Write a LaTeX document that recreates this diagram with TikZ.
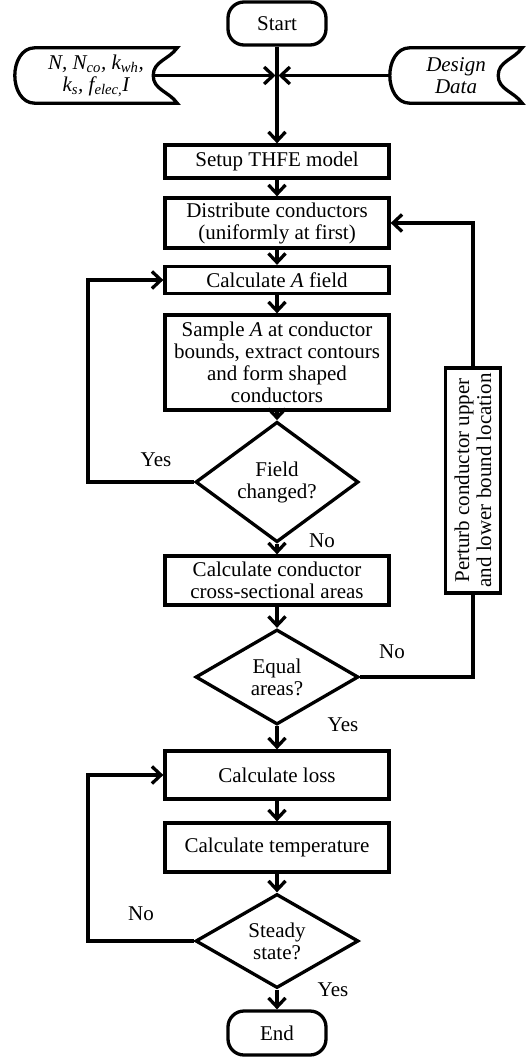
\documentclass[tikz,border=0pt]{standalone}
\usepackage{fontspec}
\setmainfont{Liberation Serif}
\usetikzlibrary{shapes.geometric,arrows.meta,positioning,calc}
\newcommand{\bw}{224}
\newcommand{\dmw}{163}
\newcommand{\dmh}{95}
% stored data shape: convex on the left, concave on the right
\newcommand{\mdata}[4]{
  \node [inner sep=0, minimum width=#2, minimum height=55, align=center, font=\fontsize{21}{22}\selectfont\itshape] at #1 (#4) {#3};
  \draw [line width=3.3pt] ($(#4.north west)+(20,0)$) -- ($(#4.north east)$)
    to[out=-125,in=90] ($(#4.east)+(-24,0)$)
    to[out=-90,in=125] ($(#4.south east)$)
    -- ($(#4.south west)+(20,0)$)
    to[out=180,in=-90] ($(#4.west)$)
    to[out=90,in=180] ($(#4.north west)+(20,0)$);
  \coordinate (#4v) at ($(#4.east)+(-24,0)$);
}

\begin{document}
\begin{tikzpicture}[x=1pt,y=-1pt,>={Straight Barb[length=9pt,width=17pt]},
  font=\fontsize{21}{22}\selectfont,
  blk/.style={draw,line width=3.3pt,minimum width=\bw,inner sep=1pt,align=center},
  term/.style={draw,line width=3.3pt,rounded corners=16pt,minimum width=98,minimum height=43,inner sep=0},
  dec/.style={draw,diamond,line width=3.3pt,minimum width=\dmw,minimum height=\dmh,inner sep=0,align=center},
  flow/.style={->,line width=3.3pt},
  lbl/.style={inner sep=0}]
  \useasboundingbox (0,0) rectangle (531,1059);

  \node [term] (start) at (277,23.5) {Start};
  \mdata{(96,75.5)}{162}{N, N\textsubscript{co}, k\textsubscript{wh},\\k\textsubscript{s}, f\textsubscript{elec,}I}{par}
  \mdata{(456,75.5)}{132}{Design\\Data}{dsn}
  \coordinate (j) at (277,75.5);

  \node [blk,minimum height=33] (setup) at (277,161.5) {Setup THFE model};
  \node [blk,minimum height=50] (dist) at (277,223) {Distribute conductors\\(uniformly at first)};
  \node [blk,minimum height=27] (calca) at (277,280) {Calculate \textit{A} field};
  \node [blk,minimum height=95] (smp) at (277,362.5) {Sample \textit{A} at conductor\\bounds, extract contours\\and form shaped\\conductors};
  \node [dec] (fld) at (277,482) {Field\\changed?};
  \node [blk,minimum height=49] (area) at (277,580.5) {Calculate conductor\\cross-sectional areas};
  \node [dec] (eq) at (277,677) {Equal\\areas?};
  \node [blk,minimum height=48] (loss) at (277,775) {Calculate loss};
  \node [blk,minimum height=49] (temp) at (277,847.5) {Calculate temperature};
  \node [dec,minimum height=92] (st) at (277,941) {Steady\\state?};
  \node [term,minimum height=44] (end) at (277,1033) {End};
  \node [draw,line width=3.3pt,rotate=90,minimum width=225,minimum height=55,inner sep=1pt,align=center] (pert) at (473,480.5) {Perturb conductor upper\\and lower bound location};

  \node [lbl] (y1) at (156,460) {Yes};
  \node [lbl] (n1) at (322,541) {No};
  \node [lbl] (n2) at (392,652) {No};
  \node [lbl] (y2) at (343,725) {Yes};
  \node [lbl] (n3) at (141,914) {No};
  \node [lbl] (y3) at (333,990) {Yes};

  \draw [flow] (start) -- (setup);
  \draw [flow,shorten >=1.5pt] (parv) -- (j);
  \draw [flow,shorten >=1.5pt] (dsn.west) -- (j);
  \draw [flow] (setup) -- (dist);
  \draw [flow] (dist) -- (calca);
  \draw [flow] (calca) -- (smp);
  \draw [flow] (smp) -- (fld);
  \draw [flow] (fld) -- (area);
  \draw [flow] (fld.west) -- (88,482) |- (calca.west);
  \draw [flow] (area) -- (eq);
  \draw [line width=3.3pt] (eq.east) -| (pert.west);
  \draw [flow] (pert.east) |- (dist.east);
  \draw [flow] (eq) -- (loss);
  \draw [flow] (loss) -- (temp);
  \draw [flow] (temp) -- (st);
  \draw [flow] (st.west) -- (88,941) |- (loss.west);
  \draw [flow] (st) -- (end);
\end{tikzpicture}
\end{document}
